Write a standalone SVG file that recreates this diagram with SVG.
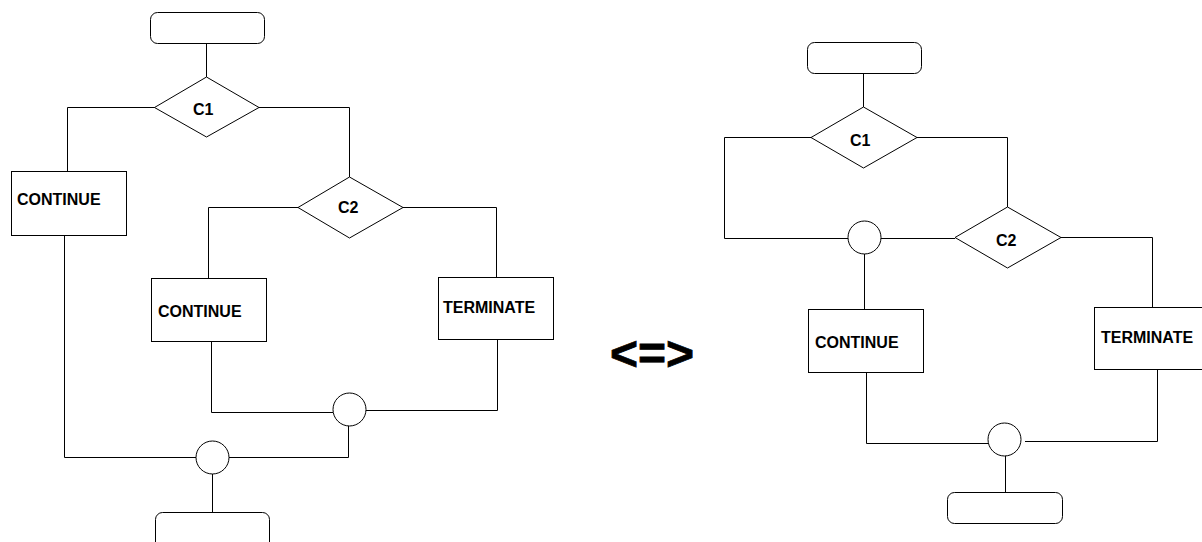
<svg xmlns="http://www.w3.org/2000/svg" width="1202" height="542" viewBox="0 0 1202 542">
  <style>
    .shape { fill: #fff; stroke: #000; stroke-width: 1; }
    .wire { fill: none; stroke: #000; stroke-width: 1; }
    .label { font-family: "Liberation Sans", Arial, sans-serif; font-weight: bold; font-size: 16px; fill: #000; }
    .big { font-family: "Liberation Sans", Arial, sans-serif; font-weight: bold; font-size: 48px; fill: #000; stroke: #000; stroke-width: 0.8; }
  </style>
  <rect width="1202" height="542" fill="#fff"/>

  <!-- connectors -->
  <g id="connectors">
    <!-- left flow -->
    <path class="wire" d="M206.5 43 V77"/>
    <path class="wire" d="M155 107.5 H67.5 V171"/>
    <path class="wire" d="M259 107.5 H349.5 V177"/>
    <path class="wire" d="M298 207.5 H208.5 V278"/>
    <path class="wire" d="M403 207.5 H496.5 V277"/>
    <path class="wire" d="M211.5 341 V412.5 H333"/>
    <path class="wire" d="M497.5 339 V410.5 H366"/>
    <path class="wire" d="M348.5 425 V457.5 H229"/>
    <path class="wire" d="M196 457.5 H64.5 V235"/>
    <path class="wire" d="M212.5 474 V512"/>
    <!-- right flow -->
    <path class="wire" d="M863.5 74 V107"/>
    <path class="wire" d="M811 137.5 H724.5 V238.5 H848"/>
    <path class="wire" d="M917 137.5 H1007.5 V207"/>
    <path class="wire" d="M881 238.5 H955"/>
    <path class="wire" d="M864.5 254 V309"/>
    <path class="wire" d="M1061 237.5 H1152.5 V307"/>
    <path class="wire" d="M866.5 372 V443.5 H988"/>
    <path class="wire" d="M1157.5 369 V441.5 H1025"/>
    <path class="wire" d="M1005.5 455 V492"/>
  </g>

  <!-- left flowchart nodes -->
  <g id="l-start"><rect class="shape" x="150.5" y="12.5" width="114" height="31" rx="7"/></g>
  <g id="l-c1">
    <polygon class="shape" points="206.5,77 259,107.5 206.5,137 154.5,107.5"/>
    <text class="label" x="193" y="115">C1</text>
  </g>
  <g id="l-continue1">
    <rect class="shape" x="11.5" y="171.5" width="115" height="64"/>
    <text class="label" x="17" y="205">CONTINUE</text>
  </g>
  <g id="l-c2">
    <polygon class="shape" points="349.5,177 403,207.5 349.5,238 298,207.5"/>
    <text class="label" x="338" y="213">C2</text>
  </g>
  <g id="l-continue2">
    <rect class="shape" x="151.5" y="278.5" width="115" height="63"/>
    <text class="label" x="158" y="317">CONTINUE</text>
  </g>
  <g id="l-terminate">
    <rect class="shape" x="438.5" y="277.5" width="115" height="62"/>
    <text class="label" x="443" y="313">TERMINATE</text>
  </g>
  <g id="l-join1"><circle class="shape" cx="349.5" cy="409.5" r="16.5"/></g>
  <g id="l-join2"><circle class="shape" cx="212.5" cy="457.5" r="16.5"/></g>
  <g id="l-end"><rect class="shape" x="155.5" y="512.5" width="114" height="40" rx="7"/></g>

  <!-- equivalence sign -->
  <g id="equiv"><text class="big" x="610" y="370">&lt;=&gt;</text></g>

  <!-- right flowchart nodes -->
  <g id="r-start"><rect class="shape" x="807.5" y="42.5" width="114" height="31" rx="7"/></g>
  <g id="r-c1">
    <polygon class="shape" points="863.5,107 917,137.5 863.5,168 811,137.5"/>
    <text class="label" x="850" y="146">C1</text>
  </g>
  <g id="r-join1"><circle class="shape" cx="864.5" cy="237.5" r="16.5"/></g>
  <g id="r-c2">
    <polygon class="shape" points="1007.5,207 1061,237.5 1007.5,268 955,237.5"/>
    <text class="label" x="996" y="246">C2</text>
  </g>
  <g id="r-continue">
    <rect class="shape" x="808.5" y="309.5" width="115" height="63"/>
    <text class="label" x="815" y="348">CONTINUE</text>
  </g>
  <g id="r-terminate">
    <rect class="shape" x="1094.5" y="307.5" width="115" height="62"/>
    <text class="label" x="1101" y="343">TERMINATE</text>
  </g>
  <g id="r-join2"><circle class="shape" cx="1004.5" cy="439.5" r="16.5"/></g>
  <g id="r-end"><rect class="shape" x="947.5" y="492.5" width="115" height="31" rx="7"/></g>
</svg>
